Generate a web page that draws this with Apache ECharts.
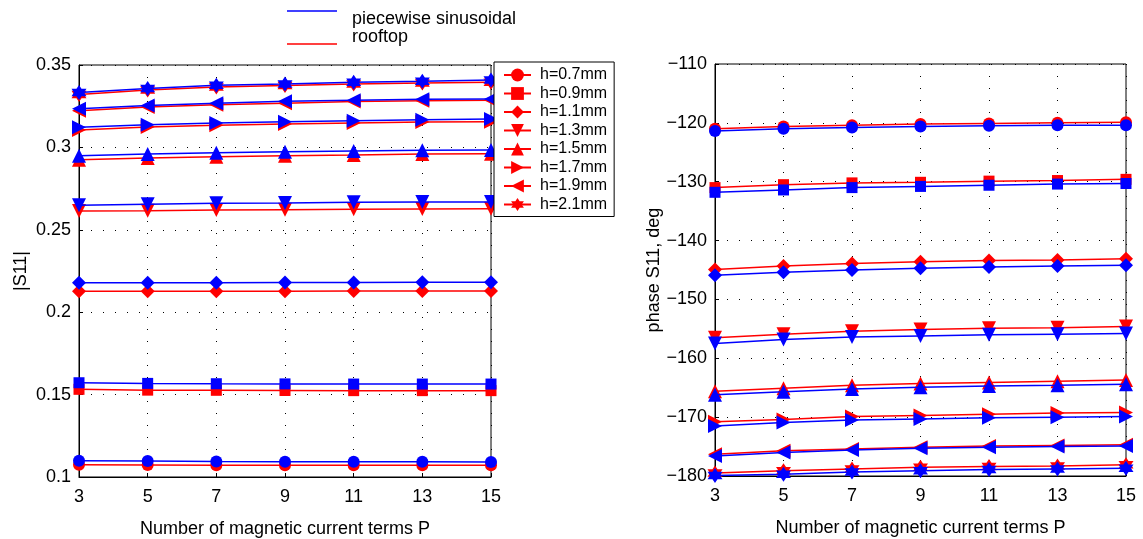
<!DOCTYPE html>
<html>
<head>
<meta charset="utf-8">
<script src="https://cdn.jsdelivr.net/npm/echarts@6/dist/echarts.min.js"></script>
<style>
html, body { margin: 0; padding: 0; background: #fff; }
#chart { width: 1143px; height: 539px; }
</style>
</head>
<body>
<div id="chart"></div>
<script>
// number of magnetic current terms P
var pTerms = ['3', '5', '7', '9', '11', '13', '15'];
var hLabels = ['h=0.7mm', 'h=0.9mm', 'h=1.1mm', 'h=1.3mm', 'h=1.5mm', 'h=1.7mm', 'h=1.9mm', 'h=2.1mm'];

// |S11|, one row per h
var magPiecewise = [
  [0.1099, 0.1097, 0.1094, 0.1093, 0.1092, 0.1092, 0.1091],
  [0.1572, 0.1568, 0.1566, 0.1565, 0.1564, 0.1564, 0.1564],
  [0.2178, 0.2179, 0.2179, 0.2180, 0.2180, 0.2181, 0.2182],
  [0.2649, 0.2655, 0.2661, 0.2663, 0.2667, 0.2669, 0.2669],
  [0.2950, 0.2960, 0.2968, 0.2974, 0.2978, 0.2982, 0.2984],
  [0.3122, 0.3138, 0.3148, 0.3156, 0.3162, 0.3168, 0.3172],
  [0.3235, 0.3255, 0.3268, 0.3280, 0.3286, 0.3292, 0.3294],
  [0.3333, 0.3358, 0.3377, 0.3385, 0.3395, 0.3401, 0.3409]
];
var magRooftop = [
  [0.1075, 0.1073, 0.1072, 0.1072, 0.1071, 0.1071, 0.1071],
  [0.1532, 0.1527, 0.1526, 0.1525, 0.1524, 0.1524, 0.1524],
  [0.2127, 0.2127, 0.2127, 0.2127, 0.2128, 0.2128, 0.2128],
  [0.2614, 0.2616, 0.2620, 0.2622, 0.2624, 0.2626, 0.2628],
  [0.2925, 0.2936, 0.2944, 0.2950, 0.2954, 0.2960, 0.2962],
  [0.3106, 0.3124, 0.3134, 0.3142, 0.3148, 0.3154, 0.3156],
  [0.3223, 0.3245, 0.3259, 0.3268, 0.3278, 0.3283, 0.3286],
  [0.3321, 0.3348, 0.3367, 0.3375, 0.3385, 0.3391, 0.3396]
];

// phase S11 in degrees, one row per h
var phasePiecewise = [
  [-121.4, -121.0, -120.8, -120.6, -120.5, -120.4, -120.4],
  [-131.8, -131.4, -131.0, -130.8, -130.6, -130.4, -130.3],
  [-145.9, -145.4, -145.0, -144.7, -144.5, -144.3, -144.2],
  [-157.5, -156.8, -156.4, -156.2, -156.0, -155.9, -155.8],
  [-166.2, -165.7, -165.2, -164.9, -164.7, -164.6, -164.4],
  [-171.5, -170.9, -170.5, -170.3, -170.1, -170.0, -169.9],
  [-176.6, -176.0, -175.6, -175.3, -175.1, -175.0, -174.9],
  [-179.9, -179.7, -179.3, -179.1, -178.9, -178.8, -178.7]
];
var phaseRooftop = [
  [-121.0, -120.6, -120.4, -120.2, -120.1, -120.0, -119.9],
  [-131.0, -130.5, -130.2, -130.1, -129.9, -129.8, -129.6],
  [-144.9, -144.3, -143.9, -143.6, -143.4, -143.3, -143.1],
  [-156.5, -155.9, -155.4, -155.1, -154.9, -154.8, -154.6],
  [-165.6, -165.1, -164.6, -164.3, -164.1, -163.9, -163.7],
  [-170.8, -170.4, -169.9, -169.7, -169.5, -169.3, -169.2],
  [-176.3, -175.7, -175.4, -175.1, -174.9, -174.8, -174.7],
  [-179.5, -179.1, -178.8, -178.5, -178.4, -178.3, -178.1]
];

var hexagram = 'path://M0,-10L2.9,-5L8.66,-5L5.8,0L8.66,5L2.9,5L0,10L-2.9,5L-8.66,5L-5.8,0L-8.66,-5L-2.9,-5Z';
var markers = [
  { symbol: 'circle', size: 12, rotate: 0 },
  { symbol: 'rect', size: 11, rotate: 0 },
  { symbol: 'diamond', size: 14, rotate: 0 },
  { symbol: 'triangle', size: 14, rotate: 180 },
  { symbol: 'triangle', size: 14, rotate: 0 },
  { symbol: 'triangle', size: 14, rotate: -90 },
  { symbol: 'triangle', size: 14, rotate: 90 },
  { symbol: hexagram, size: 15, rotate: 0 }
];

var BLUE = '#0000ff';
var RED = '#ff0000';
var FONT = 'Liberation Sans, Arial, sans-serif';

function makeSeries(name, data, color, i, axisIdx, z) {
  return {
    name: name,
    type: 'line',
    xAxisIndex: axisIdx,
    yAxisIndex: axisIdx,
    data: data,
    symbol: markers[i].symbol,
    symbolSize: markers[i].size,
    symbolRotate: markers[i].rotate,
    showAllSymbol: true,
    z: z,
    itemStyle: { color: color },
    lineStyle: { color: color, width: 1.5 },
    emphasis: { disabled: true },
    animation: false
  };
}

var series = [];
for (var i = 0; i < hLabels.length; i++) {
  series.push(makeSeries(hLabels[i], magRooftop[i], RED, i, 0, 2));
  series.push(makeSeries('ps ' + hLabels[i], magPiecewise[i], BLUE, i, 0, 3));
  series.push(makeSeries(hLabels[i], phaseRooftop[i], RED, i, 1, 2));
  series.push(makeSeries('ps ' + hLabels[i], phasePiecewise[i], BLUE, i, 1, 3));
}
// method key entries (no points)
series.push({ name: 'piecewise sinusoidal', type: 'line', data: [], symbol: 'none', lineStyle: { color: BLUE, width: 1.5 }, itemStyle: { color: BLUE } });
series.push({ name: 'rooftop', type: 'line', data: [], symbol: 'none', lineStyle: { color: RED, width: 1.5 }, itemStyle: { color: RED } });

function xAx(gridIdx) {
  return {
    type: 'category',
    gridIndex: gridIdx,
    data: pTerms,
    boundaryGap: false,
    name: 'Number of magnetic current terms P',
    nameLocation: 'middle',
    nameGap: 43,
    nameTextStyle: { color: '#000', fontSize: 18, fontFamily: FONT },
    axisLine: { lineStyle: { color: '#000', width: 1 } },
    axisTick: { inside: true, length: 4, lineStyle: { color: '#000' } },
    axisLabel: { color: '#000', fontSize: 18, fontFamily: FONT, margin: 11 },
    splitLine: { show: true, lineStyle: { color: '#000', type: [1, 11], width: 1 } }
  };
}
function yAx(gridIdx, min, max, step, name, gap, fmt) {
  return {
    type: 'value',
    gridIndex: gridIdx,
    min: min,
    max: max,
    interval: step,
    name: name,
    nameLocation: 'middle',
    nameGap: gap,
    nameRotate: 90,
    nameTextStyle: { color: '#000', fontSize: 18, fontFamily: FONT },
    axisLine: { show: true, lineStyle: { color: '#000', width: 1 } },
    axisTick: { show: true, inside: true, length: 4, lineStyle: { color: '#000' } },
    axisLabel: { color: '#000', fontSize: 18, fontFamily: FONT, margin: 8, formatter: fmt },
    splitLine: { show: true, lineStyle: { color: '#000', type: [1, 11], width: 1 } }
  };
}

function keyLegend(name, top, pad) {
  return {
    data: [{ name: name, icon: 'rect' }],
    left: 287,
    top: top,
    padding: 0,
    itemWidth: 50,
    itemHeight: 1.5,
    selectedMode: false,
    formatter: '{t|{name}}',
    textStyle: {
      color: '#000', fontSize: 18, fontFamily: FONT,
      rich: { t: { fontSize: 18, fontFamily: FONT, color: '#000', padding: pad } }
    }
  };
}

var option = {
  backgroundColor: '#fff',
  animation: false,
  grid: [
    { left: 79, top: 65, width: 412, height: 412, outerBoundsMode: 'none', containLabel: false, show: true, borderColor: '#000', borderWidth: 1, backgroundColor: 'transparent' },
    { left: 715, top: 64, width: 411, height: 412, outerBoundsMode: 'none', containLabel: false, show: true, borderColor: '#000', borderWidth: 1, backgroundColor: 'transparent' }
  ],
  xAxis: [xAx(0), xAx(1)],
  yAxis: [
    yAx(0, 0.1, 0.35, 0.05, '|S11|', 49, function (v) { return String(+v.toFixed(2)); }),
    yAx(1, -180, -110, 10, 'phase S11, deg', 50, function (v) { return String(v).replace('-', '\u2212'); })
  ],
  legend: [
    {
      data: hLabels,
      orient: 'vertical',
      left: 494,
      top: 62,
      z: 10,
      padding: [5, 7, 4, 9],
      itemGap: 2.5,
      itemWidth: 27,
      itemHeight: 16,
      backgroundColor: '#fff',
      borderColor: '#000',
      borderWidth: 1,
      borderRadius: 0,
      selectedMode: false,
      textStyle: { color: '#000', fontSize: 16, fontFamily: FONT, padding: [0, 0, 0, 4] }
    },
    keyLegend('piecewise sinusoidal', 10, [16, 0, 0, 10]),
    keyLegend('rooftop', 28, [0, 0, 14, 10])
  ],
  series: series
};

var myChart = echarts.init(document.getElementById('chart'));
myChart.setOption(option);
</script>
</body>
</html>
